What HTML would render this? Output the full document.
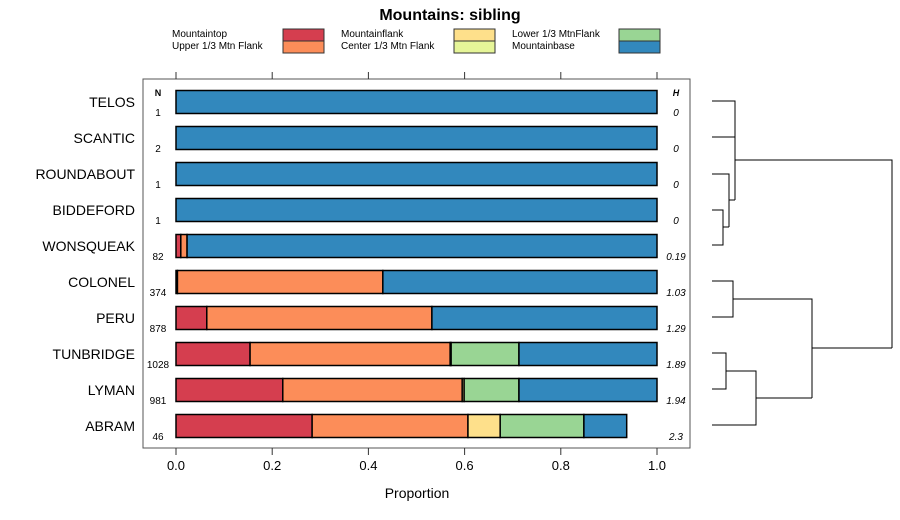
<!DOCTYPE html>
<html><head><meta charset="utf-8"><style>
body{margin:0;background:#fff;}
svg{display:block;font-family:"Liberation Sans",sans-serif;}
</style></head><body>
<svg id="c" width="900" height="520">
<text x="450" y="20" text-anchor="middle" font-size="16" font-weight="bold">Mountains: sibling</text>
<g id="legend"></g>
<rect x="143" y="79" width="547" height="369" fill="none" stroke="#555"/>
<g id="axes"></g>
<g id="bars"></g>
<g id="dendro" stroke="#000" stroke-width="1" fill="none"></g>
<text x="417" y="498" text-anchor="middle" font-size="14">Proportion</text>
<text x="158" y="96" text-anchor="middle" font-size="9" font-weight="bold">N</text>
<text x="676" y="96" text-anchor="middle" font-size="9" font-weight="bold" font-style="italic">H</text>
</svg>
<script>
const categories=["TELOS","SCANTIC","ROUNDABOUT","BIDDEFORD","WONSQUEAK","COLONEL","PERU","TUNBRIDGE","LYMAN","ABRAM"];
const nValues=["1","2","1","1","82","374","878","1028","981","46"];
const hValues=["0","0","0","0","0.19","1.03","1.29","1.89","1.94","2.3"];
const seriesNames=["Mountaintop","Upper 1/3 Mtn Flank","Mountainflank","Center 1/3 Mtn Flank","Lower 1/3 MtnFlank","Mountainbase"];
const seriesColors=["#d53e4f","#fc8d59","#fee08b","#e6f598","#99d594","#3288bd"];
const mountaintop=[0,0,0,0,0.010,0.003,0.064,0.154,0.222,0.283];
const upperFlank=[0,0,0,0,0.013,0.427,0.468,0.416,0.373,0.324];
const mountainflank=[0,0,0,0,0,0,0,0.002,0.004,0.067];
const centerFlank=[0,0,0,0,0,0,0,0,0,0];
const lowerFlank=[0,0,0,0,0,0,0,0.141,0.114,0.174];
const mountainbase=[1,1,1,1,0.977,0.570,0.468,0.287,0.287,0.089];
const xTicks=[0,0.2,0.4,0.6,0.8,1.0];
const xTickLabels=["0.0","0.2","0.4","0.6","0.8","1.0"];
const series=[mountaintop,upperFlank,mountainflank,centerFlank,lowerFlank,mountainbase];
const NS="http://www.w3.org/2000/svg";
function mk(t,a,p){const e=document.createElementNS(NS,t);for(const k in a)e.setAttribute(k,a[k]);p.appendChild(e);return e;}
const xs=v=>176+v*481;
const ys=i=>102+i*36;
const axes=document.getElementById('axes');
xTicks.forEach((t,i)=>{
 const l1=mk('line',{x1:xs(t),x2:xs(t),y1:72,y2:79,stroke:'#333'},axes);
 
 
 const l2=mk('line',{x1:xs(t),x2:xs(t),y1:448,y2:455,stroke:'#333'},axes);
 
 
 const tx=mk('text',{x:xs(t),y:470,'text-anchor':'middle','font-size':13},axes);
 tx.textContent=xTickLabels[i];
 
 
});
const bars=document.getElementById('bars');
categories.forEach((c,i)=>{
 const y=ys(i);
 const lab=mk('text',{x:135,y:y+5,'text-anchor':'end','font-size':14},bars);
 lab.textContent=c;
 
 
 const n=mk('text',{x:158,y:y+14,'text-anchor':'middle','font-size':10},bars);
 n.textContent=nValues[i];
 
 
 const h=mk('text',{x:676,y:y+14,'text-anchor':'middle','font-size':10,'font-style':'italic'},bars);
 h.textContent=hValues[i];
 
 
 let cum=0;
 series.forEach((s,j)=>{
  const v=s[i]; if(v<=0)return;
  const r=mk('rect',{x:xs(cum),y:y-11.5,width:xs(cum+v)-xs(cum),height:23,fill:seriesColors[j],stroke:'#000','stroke-width':1.5},bars);
  
  
  cum+=v;
 });
});
const lg=document.getElementById('legend');
const lcol=[[172,283],[341,454],[512,619]];
seriesNames.forEach((nm,k)=>{
 const col=Math.floor(k/2),row=k%2;
 const [tx,sx]=lcol[col];const yy=29+row*12;
 const t=mk('text',{x:tx,y:yy+8,'font-size':10},lg);
 t.textContent=nm;
 
 
 const r=mk('rect',{x:sx,y:yy,width:41,height:12,fill:seriesColors[k],stroke:'#333'},lg);
 
 
});
const dd=document.getElementById('dendro');
const segs=[
 "M712 101H735V200","M712 137H735","M712 174H729V227","M712 210H723V245H712","M723 227H729","M729 200H735","M735 160H892V348",
 "M712 281H733V317H712","M733 299H812V398","M712 353H726V389H712","M726 371H756V425H712","M756 398H812","M812 348H892"];
segs.forEach(d=>{
 const p=mk('path',{d:d},dd);
 
 
});
</script>
</body></html>
